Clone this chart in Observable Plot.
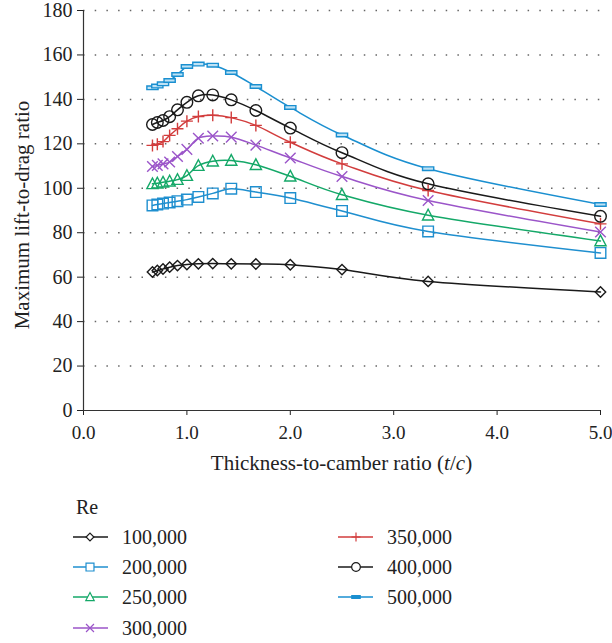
<!DOCTYPE html>
<html><head><meta charset="utf-8">
<script src="https://cdn.jsdelivr.net/npm/d3@7"></script>
<script src="https://cdn.jsdelivr.net/npm/@observablehq/plot@0.6"></script>
<style>
body{margin:0;background:#fff;}
#chart{width:612px;}
#chart svg{display:block;}
#chart svg, #chart svg text{font-family:"Liberation Serif","Times New Roman",serif !important;}
</style></head><body><div id="chart"></div>
<script>
// ---- data ----
const tc = [0.667, 0.714, 0.769, 0.833, 0.909, 1.0, 1.111, 1.25, 1.429, 1.667, 2.0, 2.5, 3.333, 5.0];
const seriesNames = ["100,000", "200,000", "250,000", "300,000", "350,000", "400,000", "500,000"];
const re100k = [62.3, 63.0, 63.7, 64.5, 65.2, 65.7, 66.0, 66.1, 66.0, 65.9, 65.6, 63.4, 58.1, 53.3];
const re200k = [92.3, 92.7, 93.1, 93.6, 94.2, 94.9, 96.1, 97.7, 99.8, 98.3, 95.6, 89.8, 80.6, 70.9];
const re250k = [102.0, 102.3, 102.7, 103.2, 103.9, 105.7, 110.2, 112.2, 112.5, 110.6, 105.4, 97.1, 87.9, 76.3];
const re300k = [109.8, 110.3, 111.0, 111.8, 114.3, 117.5, 122.5, 123.5, 123.0, 119.4, 113.6, 105.3, 94.5, 80.3];
const re350k = [119.3, 119.8, 121.0, 123.8, 126.8, 130.2, 132.3, 132.9, 131.8, 128.3, 120.7, 111.0, 99.0, 84.0];
const re400k = [128.7, 129.6, 130.5, 132.2, 135.3, 138.7, 141.6, 142.0, 139.8, 135.0, 127.1, 116.0, 102.0, 87.4];
const re500k = [145.2, 146.0, 147.0, 148.5, 151.2, 154.8, 155.9, 155.4, 152.1, 145.8, 136.4, 124.0, 108.8, 92.7];
const xTicks = [0, 1, 2, 3, 4, 5];
const yTicks = [0, 20, 40, 60, 80, 100, 120, 140, 160, 180];

// ---- styles ----
const FONT = '"Liberation Serif", "Times New Roman", serif';
const colors = ["#1a1a1a", "#1f8fcf", "#14a868", "#9b55c9", "#d23d3d", "#1a1a1a", "#1a8fd0"];
const allValues = [re100k, re200k, re250k, re300k, re350k, re400k, re500k];

const sym = {
  diamond: {draw(c) { const r = 5.2; c.moveTo(0, -r); c.lineTo(r, 0); c.lineTo(0, r); c.lineTo(-r, 0); c.closePath(); }},
  square: {draw(c) { const r = 5.3; c.moveTo(-r, -r); c.lineTo(r, -r); c.lineTo(r, r); c.lineTo(-r, r); c.closePath(); }},
  triangle: {draw(c) { const r = 5.6; c.moveTo(0, -r * 1.05); c.lineTo(r, r * 0.85); c.lineTo(-r, r * 0.85); c.closePath(); }},
  times: {draw(c) { const r = 5.3; c.moveTo(-r, -r); c.lineTo(r, r); c.moveTo(r, -r); c.lineTo(-r, r); }},
  plus: {draw(c) { const r = 6; c.moveTo(-r, 0); c.lineTo(r, 0); c.moveTo(0, -r); c.lineTo(0, r); }},
  circle: {draw(c) { const r = 5.8; c.moveTo(r, 0); c.arc(0, 0, r, 0, 2 * Math.PI); c.closePath(); }},
  dash: {draw(c) { const w = 5.6, h = 1.8; c.moveTo(-w, -h); c.lineTo(w, -h); c.lineTo(w, h); c.lineTo(-w, h); c.closePath(); }}
};
const symbols = [sym.diamond, sym.square, sym.triangle, sym.times, sym.plus, sym.circle, sym.dash];
const fills = ["none", "none", "none", "none", "none", "none", "#bfe2f5"];

const rows = [];
allValues.forEach((vals, i) => vals.forEach((v, j) => rows.push({x: tc[j], y: v, s: seriesNames[i]})));

const seriesMarks = [];
seriesNames.forEach((name, i) => {
  const d = rows.filter(r => r.s === name);
  seriesMarks.push(Plot.line(d, {x: "x", y: "y", stroke: colors[i], strokeWidth: 1.5, curve: "cardinal"}));
});
seriesNames.forEach((name, i) => {
  const d = rows.filter(r => r.s === name);
  seriesMarks.push(Plot.dot(d, {x: "x", y: "y", stroke: colors[i], fill: fills[i], strokeWidth: 1.4, symbol: symbols[i], r: 5}));
});

const plot = Plot.plot({
  width: 612, height: 480,
  marginLeft: 83, marginRight: 12, marginTop: 10, marginBottom: 70,
  style: {fontFamily: FONT, fontSize: "19px", color: "#222", background: "#fff"},
  x: {domain: [0, 5], ticks: xTicks, tickFormat: d3.format(".1f"), label: null, tickSize: 5, tickPadding: 10},
  y: {domain: [0, 180], ticks: yTicks, label: null, tickSize: 6, tickPadding: 5},
  marks: [
    Plot.ruleY(yTicks.slice(1), {stroke: "#666", strokeWidth: 1.5, strokeDasharray: "1.5,10.2"}),
    Plot.ruleY([0], {stroke: "#333", strokeWidth: 1.2}),
    Plot.ruleX([0], {stroke: "#333", strokeWidth: 1.2}),
    ...seriesMarks
  ]
});

const svg = d3.select(plot);
svg.selectAll("text").style("font-family", FONT);
svg.selectAll("g[aria-label='y-axis tick label'] text, g[aria-label='y-axis'] text").style("font-size", "20px");
const xt = svg.append("text").attr("x", 341.5).attr("y", 470).attr("text-anchor", "middle")
  .style("font-family", FONT).style("font-size", "21px").attr("fill", "#222");
xt.append("tspan").text("Thickness-to-camber ratio (");
xt.append("tspan").style("font-style", "italic").text("t");
xt.append("tspan").text("/");
xt.append("tspan").style("font-style", "italic").text("c");
xt.append("tspan").text(")");
svg.append("text").attr("transform", "translate(29,215) rotate(-90)").attr("text-anchor", "middle")
  .style("font-family", FONT).style("font-size", "21px").attr("fill", "#222")
  .text("Maximum lift-to-drag ratio");

document.getElementById("chart").appendChild(plot);

// ---- legend ----
const lg = d3.select("#chart").append("svg").attr("width", 612).attr("height", 163)
  .style("font-family", FONT).style("font-size", "20px");
lg.append("text").attr("x", 76).attr("y", 34).attr("fill", "#222").style("font-family", FONT).text("Re");
const pos = [[0, 57], [0, 87], [0, 117], [0, 148], [1, 57], [1, 87], [1, 117]];
const colX = [[73, 108, 90, 122], [338, 373, 356, 387]];
seriesNames.forEach((name, i) => {
  const [c, y] = pos[i];
  const [x1, x2, xm, xt2] = colX[c];
  lg.append("line").attr("x1", x1).attr("x2", x2).attr("y1", y).attr("y2", y).attr("stroke", colors[i]).attr("stroke-width", 1.5);
  const p = d3.path();
  symbols[i].draw(p);
  lg.append("path").attr("d", p.toString()).attr("transform", `translate(${xm},${y}) scale(0.75)`)
    .attr("stroke", colors[i]).attr("stroke-width", 1.6).attr("fill", i === 6 ? colors[i] : "#fff");
  lg.append("text").attr("x", xt2).attr("y", y + 7).attr("fill", "#222").style("font-family", FONT).text(name);
});
</script>
</body></html>
